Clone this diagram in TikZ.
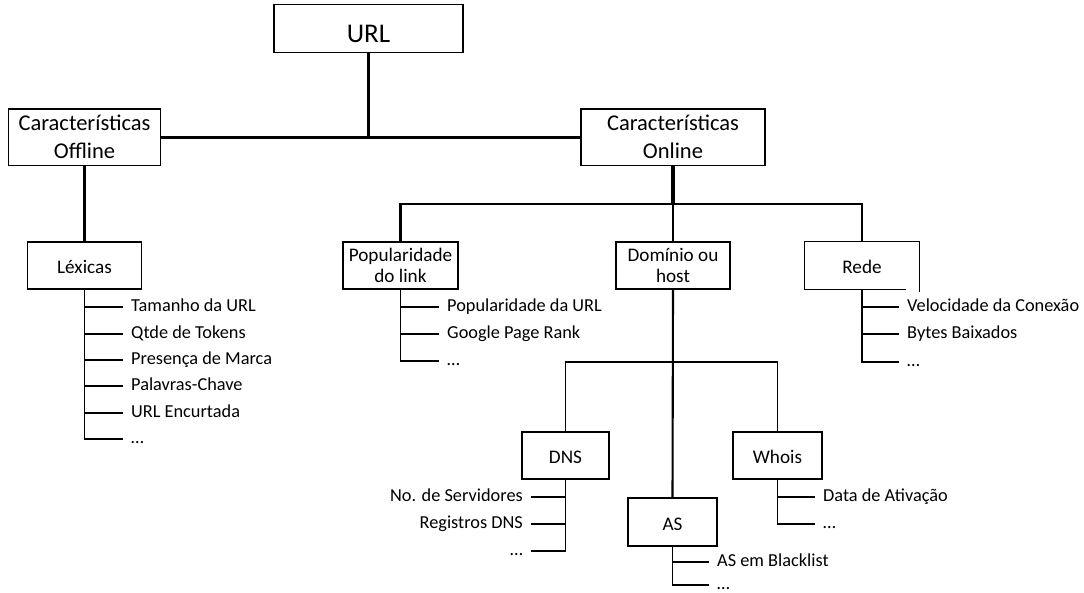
\documentclass[tikz,border=0pt]{standalone}
\usepackage{fontspec}
\setmainfont{Carlito}
\tikzset{
  box/.style={draw,line width=1.2pt,inner sep=0pt,align=center},
  urlbox/.style={box,text height=28pt,text depth=0pt,font=\fontsize{27}{32}\selectfont},
  catbox/.style={box,minimum height=56.7pt,font=\fontsize{22.5}{28}\selectfont,
    execute at begin node={\rule{0pt}{20.2pt}}},
  grpbox/.style={box,minimum height=47pt,font=\fontsize{19.2}{21}\selectfont},
  oneline/.style={text height=16.4pt,text depth=0pt},
  twoline/.style={execute at begin node={\rule{0pt}{18.5pt}}},
  item/.style={inner xsep=8pt,inner ysep=0pt,text height=12pt,text depth=2.6pt,
    font=\fontsize{18.3}{20}\selectfont},
  lvlA/.style={line width=3.2pt},
  lvlB/.style={line width=2.1pt},
  lvlC/.style={line width=1.6pt},
  sub/.style={line width=1.2pt}
}
\begin{document}
\begin{tikzpicture}[x=1pt,y=-1pt]
\useasboundingbox (0,0) rectangle (1084,593);

% boxes
\node[urlbox,minimum width=189pt,minimum height=47.6pt] (url) at (368.5,28.5) {URL};
\node[catbox,minimum width=152pt] (off) at (84.5,137.3) {Características\\Offline};
\node[catbox,minimum width=184pt] (on) at (673,137.3) {Características\\Online};
\node[grpbox,oneline,minimum width=114pt] (lex) at (84.5,265.5) {Léxicas};
\node[grpbox,twoline,minimum width=115pt] (pop) at (400.5,265.5) {Popularidade\\do link};
\node[grpbox,twoline,minimum width=114pt] (dom) at (673,265.5) {Domínio ou\\host};
\node[grpbox,oneline,draw=none,minimum width=114pt] (rede) at (862,265.5) {Rede};
\draw[line width=1.2pt] (rede.south west) -- (rede.north west) -- (rede.north east) -- ++(0,51);
\draw[line width=1.2pt] (rede.south west) -- ++(102,0);
\node[grpbox,oneline,minimum width=87pt] (dns) at (565.5,455.5) {DNS};
\node[grpbox,oneline,minimum width=89pt,minimum height=48pt] (as) at (672.5,522) {AS};
\node[grpbox,oneline,minimum width=89pt] (whois) at (777.5,455.5) {Whois};

% tree
\draw[lvlA] (url.south) -- (url.south |- off.east);
\draw[lvlA] (off.east) -- (on.west);
\draw[lvlA] (off.south) -- (lex.north);
\draw[lvlA] (on.south) -- ++(0,38) coordinate (busB);
\draw[lvlB] (pop.north) |- (rede.north |- busB) -- (rede.north);
\draw[lvlB] (busB) -- (dom.north);
\draw[lvlB] (dom.south) -- (as.north);
\coordinate (busC) at (673,362);
\draw[lvlC] (dns.north) |- (busC) -| (whois.north);

% features
\node[item,anchor=west] (lx1) at (123,307) {Tamanho da URL};
\node[item,anchor=west] (lx2) at (123,334) {Qtde de Tokens};
\node[item,anchor=west] (lx3) at (123,360) {Presença de Marca};
\node[item,anchor=west] (lx4) at (123,386) {Palavras-Chave};
\node[item,anchor=west] (lx5) at (123,413) {URL Encurtada};
\node[item,anchor=west] (lx6) at (123,439) {…};
\draw[sub] (lex.south) |- (lx6.west);
\foreach \i in {1,...,5} \draw[sub] (lex.south |- lx\i.west) -- (lx\i.west);

\node[item,anchor=west] (pp1) at (439,307) {Popularidade da URL};
\node[item,anchor=west] (pp2) at (439,334) {Google Page Rank};
\node[item,anchor=west] (pp3) at (439,361) {…};
\draw[sub] (pop.south) |- (pp3.west);
\foreach \i in {1,2} \draw[sub] (pop.south |- pp\i.west) -- (pp\i.west);

\node[item,anchor=west] (rd1) at (899,307) {Velocidade da Conexão};
\node[item,anchor=west] (rd2) at (899,334) {Bytes Baixados};
\node[item,anchor=west] (rd3) at (899,362) {…};
\draw[sub] (rede.south) |- (rd3.west);
\foreach \i in {1,2} \draw[sub] (rede.south |- rd\i.west) -- (rd\i.west);

\node[item,anchor=east] (dn1) at (531,497) {No. de Servidores};
\node[item,anchor=east] (dn2) at (531,524) {Registros DNS};
\node[item,anchor=east] (dn3) at (531,551) {…};
\draw[sub] (dns.south) |- (dn3.east);
\foreach \i in {1,2} \draw[sub] (dns.south |- dn\i.east) -- (dn\i.east);

\node[item,anchor=west] (wh1) at (815,497) {Data de Ativação};
\node[item,anchor=west] (wh2) at (815,524) {…};
\draw[sub] (whois.south) |- (wh2.west);
\draw[sub] (whois.south |- wh1.west) -- (wh1.west);

\node[item,anchor=west] (as1) at (709,562) {AS em Blacklist};
\node[item,anchor=west] (as2) at (709,585) {…};
\draw[sub] (as.south) |- (as2.west);
\draw[sub] (as.south |- as1.west) -- (as1.west);
\end{tikzpicture}
\end{document}
